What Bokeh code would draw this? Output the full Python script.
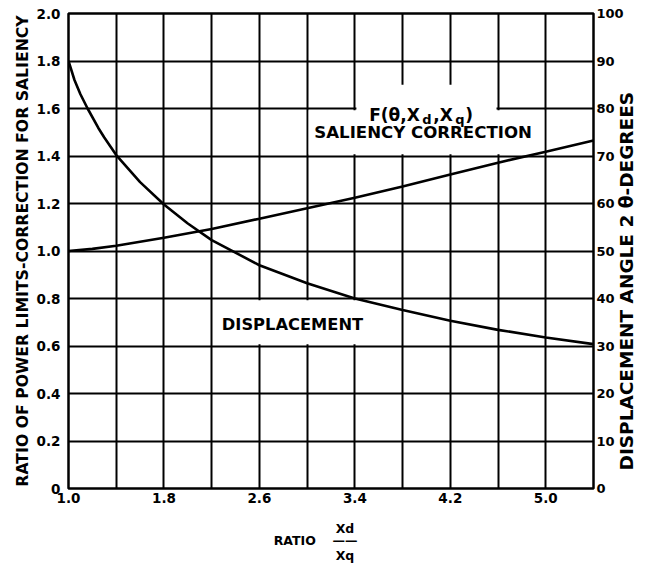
from math import pi
from bokeh.plotting import figure
from bokeh.models import Range1d, LinearAxis, FixedTicker, BoxAnnotation, Label
from bokeh.embed import file_html
from bokeh.resources import INLINE

# ---- data ----
disp_ratio = [1.0, 1.05, 1.1, 1.16, 1.25, 1.3, 1.4, 1.6, 1.8, 2.0, 2.2, 2.6, 3.0, 3.4, 3.8, 4.2, 4.6, 5.0, 5.4]
disp_deg = [90, 86, 83, 80, 75.9, 73.9, 70.2, 64.5, 59.8, 55.8, 52.3, 47, 43.2, 40, 37.6, 35.3, 33.4, 31.8, 30.4]

sal_ratio = [1.0, 1.2, 1.4, 1.8, 2.2, 2.6, 3.0, 3.4, 3.8, 4.2, 4.6, 5.0, 5.4]
sal_corr = [1.0, 1.009, 1.022, 1.056, 1.093, 1.136, 1.180, 1.224, 1.272, 1.322, 1.372, 1.418, 1.465]

x_ticks = [1.0, 1.8, 2.6, 3.4, 4.2, 5.0]
x_tick_labels = ["1.0", "1.8", "2.6", "3.4", "4.2", "5.0"]
x_grid = [1.0, 1.4, 1.8, 2.2, 2.6, 3.0, 3.4, 3.8, 4.2, 4.6, 5.0, 5.4]
y_ticks = [0, 0.2, 0.4, 0.6, 0.8, 1.0, 1.2, 1.4, 1.6, 1.8, 2.0]
y_tick_labels = ["0", "0.2", "0.4", "0.6", "0.8", "1.0", "1.2", "1.4", "1.6", "1.8", "2.0"]
deg_ticks = [0, 10, 20, 30, 40, 50, 60, 70, 80, 90, 100]

# axis titles
left_title = "RATIO OF POWER LIMITS-CORRECTION FOR SALIENCY"
right_title = "DISPLACEMENT ANGLE 2 θ-DEGREES"
title_ratio_text = "RATIO"
title_num_text = "Xd"
title_bar_text = "——"
title_den_text = "Xq"

FONT = "DejaVu Sans"

p = figure(width=650, height=565, output_backend="svg", toolbar_location=None,
           x_range=Range1d(1.0, 5.4), y_range=Range1d(0, 2.0),
           min_border_left=68, min_border_right=56, min_border_top=13, min_border_bottom=77)
p.extra_y_ranges = {"deg": Range1d(0, 100)}

p.outline_line_color = "black"
p.outline_line_width = 2.5
p.outline_line_alpha = 1.0

# grids
p.xgrid.ticker = FixedTicker(ticks=x_grid)
p.ygrid.ticker = FixedTicker(ticks=y_ticks)
for g in (p.xgrid, p.ygrid):
    g.grid_line_color = "black"
    g.grid_line_width = 2
    g.grid_line_alpha = 1.0

# axes
xa = p.xaxis[0]
xa.ticker = FixedTicker(ticks=x_ticks)
xa.major_label_overrides = {t: l for t, l in zip(x_ticks, x_tick_labels)}
ya = p.yaxis[0]
ya.ticker = FixedTicker(ticks=y_ticks)
ya.major_label_overrides = {t: l for t, l in zip(y_ticks, y_tick_labels)}
ya.axis_label = left_title
ya.axis_label_text_font_size = "15.7px"
ya.axis_label_standoff = 2

ra = LinearAxis(y_range_name="deg", ticker=FixedTicker(ticks=deg_ticks))
p.add_layout(ra, "right")

# right-hand title: a label-only axis whose single label is turned to read upward
right_title_start = 3.8   # where (in degrees) the upward-reading title begins
rt_ax = LinearAxis(y_range_name="deg", ticker=FixedTicker(ticks=[right_title_start]),
                   major_label_overrides={right_title_start: right_title},
                   major_label_orientation=pi / 2)
p.add_layout(rt_ax, "right")

# x-axis title, built from three stacked label-only axes below the tick labels
ratio_pos = 2.896
frac_pos = 3.317
num_ax = LinearAxis(ticker=FixedTicker(ticks=[frac_pos]),
                    major_label_overrides={frac_pos: title_num_text})
mid_ax = LinearAxis(ticker=FixedTicker(ticks=[ratio_pos, frac_pos]),
                    major_label_overrides={ratio_pos: title_ratio_text, frac_pos: title_bar_text})
den_ax = LinearAxis(ticker=FixedTicker(ticks=[frac_pos]),
                    major_label_overrides={frac_pos: title_den_text})
for a in (num_ax, mid_ax, den_ax):
    p.add_layout(a, "below")

for a in (xa, ya, ra, rt_ax, num_ax, mid_ax, den_ax):
    a.axis_line_color = None
    a.major_tick_line_color = None
    a.minor_tick_line_color = None
    a.major_tick_out = 0
    a.major_tick_in = 0
    a.minor_tick_out = 0
    a.minor_tick_in = 0
    a.major_label_text_font = FONT
    a.major_label_text_font_style = "bold"
    a.major_label_text_font_size = "13.5px"
    a.major_label_text_color = "black"
    a.axis_label_text_font = FONT
    a.axis_label_text_font_style = "bold"
    a.axis_label_text_color = "black"
ra.major_label_text_font_size = "13px"
rt_ax.major_label_text_font_size = "18.5px"
for a in (num_ax, mid_ax, den_ax):
    a.major_label_text_font_size = "12.5px"
xa.major_label_standoff = 4
ya.major_label_standoff = 8
ra.major_label_standoff = 3
rt_ax.major_label_standoff = 0
num_ax.major_label_standoff = 15
mid_ax.major_label_standoff = -6
den_ax.major_label_standoff = -3

# white label boxes that interrupt the grid
dx, dy = 0.013, 0.007
p.add_layout(BoxAnnotation(left=3.0 + dx, right=5.0 - dx, bottom=1.4 + dy, top=1.6 - dy,
                           fill_color="white", fill_alpha=1, line_color=None, level="underlay"))
p.add_layout(BoxAnnotation(left=3.4 + dx, right=4.6 - dx, bottom=1.55, top=1.70,
                           fill_color="white", fill_alpha=1, line_color=None, level="underlay"))
p.add_layout(BoxAnnotation(left=2.2 + dx, right=3.8 - dx, bottom=0.6 + dy, top=0.8 - dy,
                           fill_color="white", fill_alpha=1, line_color=None, level="underlay"))

# curves
p.line(sal_ratio, sal_corr, line_color="black", line_width=2.6)
p.line(disp_ratio, disp_deg, y_range_name="deg", line_color="black", line_width=2.6)


def lab(x, y, text, size="16px", align="left", baseline="middle", xo=0, yo=0):
    p.add_layout(Label(x=x, y=y, text=text, text_font=FONT, text_font_style="bold",
                       text_font_size=size, text_align=align, text_baseline=baseline,
                       text_color="black", x_offset=xo, y_offset=yo))


lab(2.285, 0.69, "DISPLACEMENT", "16.3px")
lab(3.06, 1.50, "SALIENCY CORRECTION", "16.6px")
# F(θ, Xd, Xq)
fx, fy = 3.52, 1.571
lab(fx, fy, "F(θ,X", "17px", baseline="alphabetic")
lab(fx, fy, "d", "13px", baseline="alphabetic", xo=53, yo=-4)
lab(fx, fy, ",X", "17px", baseline="alphabetic", xo=64)
lab(fx, fy, "q", "13px", baseline="alphabetic", xo=86, yo=-4)
lab(fx, fy, ")", "17px", baseline="alphabetic", xo=96)

open("out.html", "w").write(file_html(p, INLINE))
